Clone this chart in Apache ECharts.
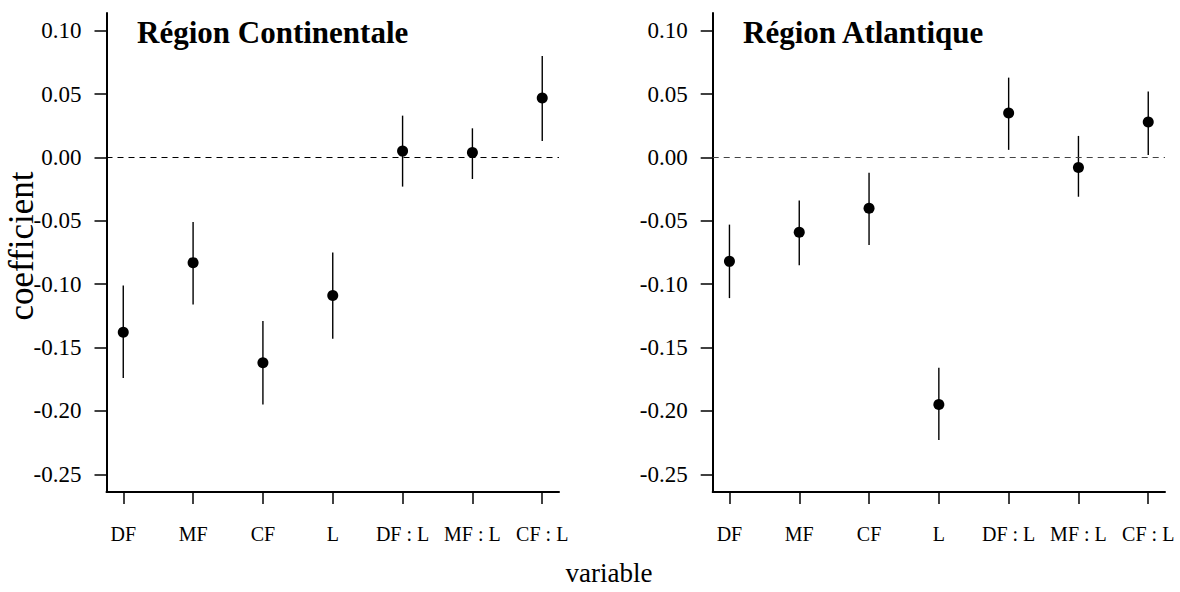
<!DOCTYPE html>
<html><head><meta charset="utf-8">
<script src="https://cdn.jsdelivr.net/npm/echarts@6/dist/echarts.min.js"></script>
<style>html,body{margin:0;padding:0;background:#fff}#c{width:1180px;height:592px}</style>
</head><body><div id="c"></div>
<script>
const categories = ['DF', 'MF', 'CF', 'L', 'DF : L', 'MF : L', 'CF : L'];
const yTicks = [-0.25, -0.20, -0.15, -0.10, -0.05, 0.00, 0.05, 0.10];
const panelTitles = ['Région Continentale', 'Région Atlantique'];
const contEst  = [-0.138, -0.083, -0.162, -0.109, 0.005, 0.004, 0.047];
const contLow  = [-0.174, -0.116, -0.195, -0.143, -0.023, -0.017, 0.013];
const contHigh = [-0.101, -0.051, -0.129, -0.075, 0.033, 0.023, 0.080];
const atlEst   = [-0.082, -0.059, -0.040, -0.195, 0.035, -0.008, 0.028];
const atlLow   = [-0.111, -0.085, -0.069, -0.223, 0.006, -0.031, 0.002];
const atlHigh  = [-0.053, -0.034, -0.012, -0.166, 0.063, 0.017, 0.052];

const FONT = '"Liberation Serif", "Times New Roman", serif';
const xPos = categories.map((c, i) => i + 1);

function xAxisCfg(gi) {
  return {
    type: 'value', gridIndex: gi, min: 0.76, max: 7.24,
    axisLine: { show: true, onZero: false, lineStyle: { color: '#000', width: 2 } },
    axisTick: { show: true, customValues: xPos, length: 12, lineStyle: { color: '#000', width: 1.5 } },
    axisLabel: { show: true, customValues: xPos, formatter: v => categories[Math.round(v) - 1],
      fontFamily: FONT, fontSize: 20, color: '#000', margin: 32 },
    splitLine: { show: false }
  };
}
function yAxisCfg(gi) {
  return {
    type: 'value', gridIndex: gi, min: -0.264, max: 0.114,
    axisLine: { show: true, onZero: false, lineStyle: { color: '#000', width: 2 } },
    axisTick: { show: true, customValues: yTicks, length: 12, lineStyle: { color: '#000', width: 1.5 } },
    axisLabel: { show: true, customValues: yTicks, formatter: v => Number(v).toFixed(2),
      fontFamily: FONT, fontSize: 23, fontWeight: 'normal', color: '#000', margin: 25 },
    splitLine: { show: false }
  };
}
function errSeries(gi, low, high) {
  return {
    type: 'custom', xAxisIndex: gi, yAxisIndex: gi,
    data: xPos.map((x, i) => [x, low[i], high[i]]),
    encode: { x: 0, y: [1, 2] },
    renderItem: function (params, api) {
      const x = api.value(0);
      const p1 = api.coord([x, api.value(1)]);
      const p2 = api.coord([x, api.value(2)]);
      return { type: 'line', shape: { x1: p1[0], y1: p1[1], x2: p2[0], y2: p2[1] },
        style: { stroke: '#000', lineWidth: 1.4 } };
    },
    silent: true, z: 2
  };
}
function ptSeries(gi, est, dashColor) {
  return {
    type: 'scatter', xAxisIndex: gi, yAxisIndex: gi,
    data: xPos.map((x, i) => [x, est[i]]),
    symbol: 'circle', symbolSize: 11,
    itemStyle: { color: '#000', opacity: 1 },
    z: 3, silent: true,
    markLine: {
      silent: true, symbol: ['none', 'none'], label: { show: false },
      lineStyle: { type: [6, 5], color: dashColor, width: 1.2 },
      data: [{ yAxis: 0 }], animation: false
    }
  };
}

const chart = echarts.init(document.getElementById('c'), null, { renderer: 'svg' });
chart.setOption({
  animation: false,
  backgroundColor: '#fff',
  textStyle: { fontFamily: FONT, color: '#000' },
  grid: [
    { left: 106.5, right: 621, top: 13, bottom: 100 },
    { left: 712.7, right: 15, top: 13, bottom: 100 }
  ],
  xAxis: [xAxisCfg(0), xAxisCfg(1)],
  yAxis: [yAxisCfg(0), yAxisCfg(1)],
  series: [
    errSeries(0, contLow, contHigh), ptSeries(0, contEst, '#000'),
    errSeries(1, atlLow, atlHigh), ptSeries(1, atlEst, '#444')
  ],
  graphic: [
    { type: 'text', left: 137, top: 17, style: { text: panelTitles[0], fontFamily: FONT, fontWeight: 'bold', fontSize: 31, fill: '#000' } },
    { type: 'text', left: 743, top: 17, style: { text: panelTitles[1], fontFamily: FONT, fontWeight: 'bold', fontSize: 31, fill: '#000' } },
    { type: 'text', x: 609, y: 573, style: { text: 'variable', fontFamily: FONT, fontSize: 27, fill: '#000', align: 'center', verticalAlign: 'middle' } },
    { type: 'text', x: 21, y: 246, rotation: Math.PI / 2, style: { text: 'coefficient', fontFamily: FONT, fontSize: 35, fill: '#000', align: 'center', verticalAlign: 'middle' } }
  ]
});
</script></body></html>
